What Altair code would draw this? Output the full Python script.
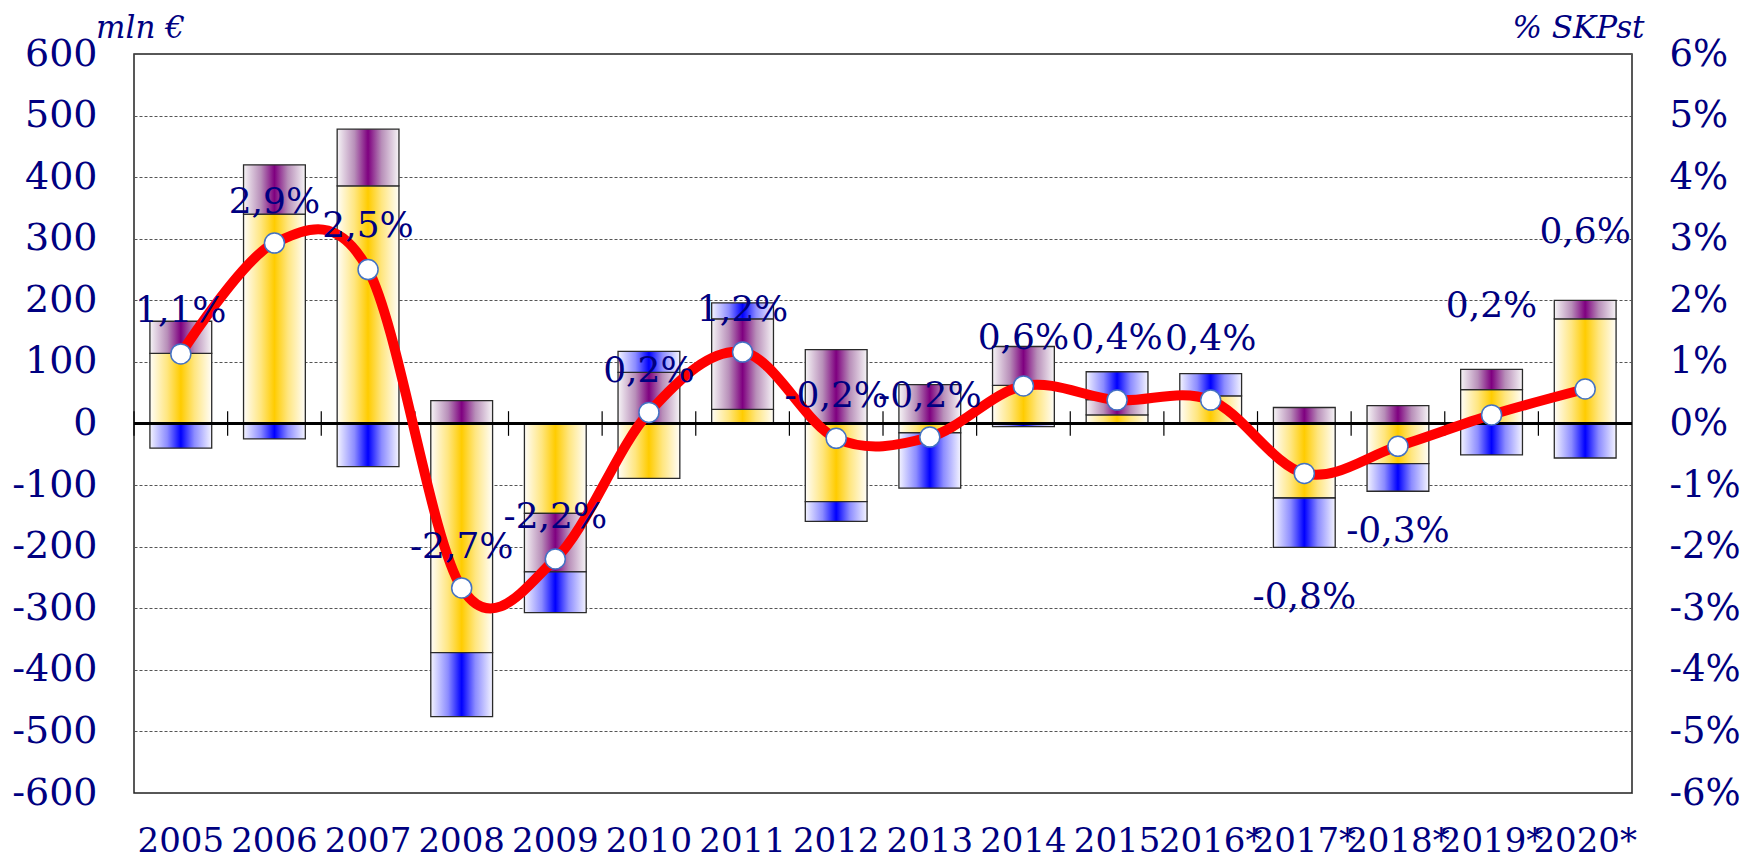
import altair as alt
import pandas as pd

years = ["2005", "2006", "2007", "2008", "2009", "2010", "2011", "2012", "2013",
         "2014", "2015", "2016*", "2017*", "2018*", "2019*", "2020*"]
yellow = [114, 340, 386, -372, -146, -89, 23, -127, -15, 62, 14, 45, -121, -65, 55, 170]
purple = [52, 80, 92, 37, -95, 83, 147, 120, 63, 63, 25, 0, 26, 29, 33, 30]
blue = [-40, -25, -70, -104, -66, 34, 26, -32, -90, -5, 45, 36, -80, -45, -51, -56]
pct = [1.13, 2.93, 2.5, -2.67, -2.2, 0.18, 1.16, -0.24, -0.22, 0.61, 0.38, 0.38,
       -0.81, -0.37, 0.14, 0.56]
pct_labels = ["1,1%", "2,9%", "2,5%", "-2,7%", "-2,2%", "0,2%", "1,2%", "-0,2%", "-0,2%",
              "0,6%", "0,4%", "0,4%", "-0,8%", "-0,3%", "0,2%", "0,6%"]
label_anchor = [1.65, 3.42, 3.03, -2.19, -1.70, 0.67, 1.66, 0.27, 0.27, 1.21, 1.21, 1.19,
                -2.99, -1.93, 1.73, 2.93]

FONT = "DejaVu Serif"
NAVY = "#000080"

rows = []
for i, yr in enumerate(years):
    for order, (name, vals) in enumerate([("yellow", yellow), ("purple", purple), ("blue", blue)]):
        if vals[i] != 0:
            rows.append({"year": yr, "series": name, "order": order, "value": vals[i]})
bars_df = pd.DataFrame(rows)
line_df = pd.DataFrame({"year": years, "pct": pct, "label": pct_labels, "anchor": label_anchor})

xscale = alt.Scale(domain=years, paddingInner=0.34, paddingOuter=0.17)
yscale = alt.Scale(domain=[-600, 600], nice=False, zero=False)
pscale = alt.Scale(domain=[-6, 6], nice=False, zero=False)

x_axis = alt.Axis(orient="bottom", labelAngle=0, ticks=False, domain=False, grid=False,
                  labelPadding=31, labelFont=FONT, labelFontSize=34, labelColor=NAVY,
                  title=None, labelOverlap=False)
x_enc = alt.X("year:N", scale=xscale, sort=years, axis=x_axis)

left_axis = alt.Axis(orient="left", values=list(range(-600, 601, 100)),
                     labelExpr="'' + datum.value", grid=True, gridDash=[3, 2],
                     gridColor="#555555", gridWidth=1, ticks=False, domain=False,
                     labelPadding=37, labelFont=FONT, labelFontSize=38, labelColor=NAVY,
                     title="mln €", titleFont=FONT, titleFontStyle="italic",
                     titleFontWeight="normal", titleFontSize=31, titleColor=NAVY,
                     titleAngle=0, titleX=6, titleY=-17, titleAlign="center",
                     titleBaseline="alphabetic")
right_axis = alt.Axis(orient="right", values=list(range(-6, 7)),
                      labelExpr="datum.value + '%'", grid=False, ticks=False, domain=False,
                      labelPadding=37, labelFont=FONT, labelFontSize=37, labelColor=NAVY,
                      title="% SKPst", titleFont=FONT, titleFontStyle="italic",
                      titleFontWeight="normal", titleFontSize=31, titleColor=NAVY,
                      titleAngle=0, titleX=-54, titleY=-17, titleAlign="center",
                      titleBaseline="alphabetic")


def grad(center, tint, edge):
    return alt.Gradient(
        gradient="linear",
        stops=[alt.GradientStop(color=edge, offset=0),
               alt.GradientStop(color=tint, offset=0.28),
               alt.GradientStop(color=center, offset=0.5),
               alt.GradientStop(color=tint, offset=0.72),
               alt.GradientStop(color=edge, offset=1)],
        x1=0, x2=1, y1=0, y2=0)


fills = {"yellow": grad("#FFCC00", "#FFE680", "#FFFDF8"),
         "purple": grad("#7F0080", "#B88FB9", "#F6F4F6"),
         "blue": grad("#0000FF", "#8C8CFF", "#F4F4FF")}

stacked = alt.Chart(bars_df).transform_stack(
    stack="value", groupby=["year"], as_=["v0", "v1"],
    sort=[alt.SortField("order", order="ascending")])

bar_layers = []
for name in ["yellow", "purple", "blue"]:
    bar_layers.append(
        stacked.transform_filter(alt.datum.series == name)
        .mark_bar(fill=fills[name], stroke="#2a2a2a", strokeWidth=1.3)
        .encode(x=x_enc,
                y=alt.Y("v0:Q", scale=yscale, axis=left_axis),
                y2="v1:Q")
    )

zero_rule = alt.Chart(line_df).mark_rule(color="black", strokeWidth=1.5).encode(
    y=alt.Y(datum=0, type="quantitative", scale=yscale, axis=left_axis))

ticks = alt.Chart(line_df).mark_rule(color="black", strokeWidth=1.2, xOffset=-46.8).encode(
    x=x_enc,
    y=alt.Y(datum=20, type="quantitative", scale=yscale, axis=left_axis),
    y2=alt.Y2(datum=-20))

left_group = alt.layer(*bar_layers, zero_rule, ticks)

lbase = alt.Chart(line_df)
line = lbase.mark_line(color="#FF0000", strokeWidth=10, interpolate="cardinal").encode(
    x=x_enc, y=alt.Y("pct:Q", scale=pscale, axis=right_axis))
points = lbase.mark_point(shape="circle", filled=True, fill="white", stroke="#4472C4",
                          strokeWidth=1.5, size=400, opacity=1).encode(
    x=x_enc, y=alt.Y("pct:Q", scale=pscale, axis=right_axis))
labels = lbase.mark_text(font=FONT, fontSize=36, color=NAVY, baseline="alphabetic",
                         align="center").encode(
    x=x_enc, y=alt.Y("anchor:Q", scale=pscale, axis=right_axis), text="label:N")

right_group = alt.layer(line, points, labels)

chart = alt.layer(left_group, right_group).resolve_scale(y="independent").properties(
    width=1498, height=739,
    padding={"left": 126, "top": 46, "right": 110, "bottom": 68},
    autosize=alt.AutoSizeParams(type="none"),
    background="white",
).configure_view(stroke="#222222", strokeWidth=1.5)

chart.save("out.html", embed_options={"renderer": "svg", "actions": False})
